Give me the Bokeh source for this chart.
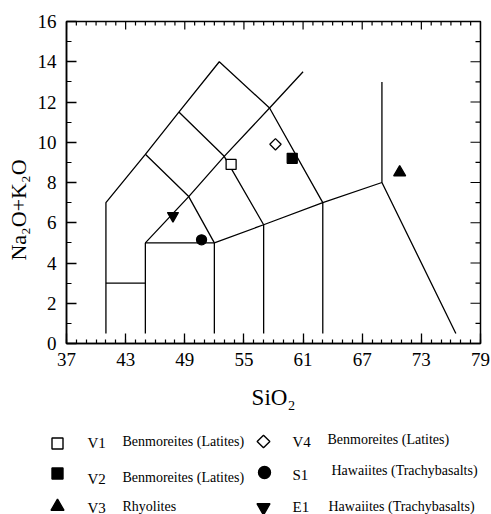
import math
from bokeh.plotting import figure
from bokeh.models import FixedTicker, Range1d, ColumnDataSource
from bokeh.layouts import column
from bokeh.embed import file_html
from bokeh.resources import INLINE

FONT = "Liberation Serif"
NB = "\u00a0"

# ---- data -------------------------------------------------------------
x_ticks = [37, 43, 49, 55, 61, 67, 73, 79]
y_ticks = [0, 2, 4, 6, 8, 10, 12, 14, 16]
x_minor = list(range(37, 80))
y_minor = list(range(0, 17))

# TAS field boundaries (SiO2, Na2O+K2O)
outer_x = [41, 41, 45, 48.4, 52.5, 57.6, 63, 63]
outer_y = [0.5, 7, 9.4, 11.5, 14, 11.7, 7, 0.5]
low_x = [41, 45]
low_y = [3, 3]
basalt_x = [45, 45, 52, 52]
basalt_y = [0.5, 5, 5, 0.5]
diag_x = [45, 49.4, 53, 57.6, 61]
diag_y = [5, 7.3, 9.3, 11.7, 13.5]
mid1_x = [45, 49.4, 52]
mid1_y = [9.4, 7.3, 5]
mid2_x = [48.4, 53, 57]
mid2_y = [11.5, 9.3, 5.9]
base_x = [52, 57, 63, 69, 76.5]
base_y = [5, 5.9, 7, 8, 0.5]
v57_x = [57, 57]
v57_y = [5.9, 0.5]
v69_x = [69, 69]
v69_y = [8, 13]

samples = ["V1", "V2", "V3", "V4", "S1", "E1"]
rock_types = ["Benmoreites (Latites)", "Benmoreites (Latites)", "Rhyolites",
              "Benmoreites (Latites)", "Hawaiites (Trachybasalts)",
              "Hawaiites (Trachybasalts)"]
sio2 = [53.7, 59.9, 70.8, 58.2, 50.7, 47.8]
alkali = [8.9, 9.2, 8.5, 9.9, 5.15, 6.35]

# ---- styles -----------------------------------------------------------
markers = ["square", "square", "triangle", "square", "circle", "inverted_triangle"]
angles = [0, 0, 0, math.pi / 4, 0, 0]
fills = ["white", "black", "black", "white", "black", "black"]
psizes = [10, 10, 12, 8, 10, 11]

# ---- geometry ---------------------------------------------------------
W, H = 491, 514
TOP_H = 420
FL, FR, FT, FB = 66, 480, 21, 343

p = figure(width=W, height=TOP_H, output_backend="svg", toolbar_location=None,
           x_range=Range1d(37, 79), y_range=Range1d(0, 16),
           min_border_left=FL, min_border_right=W - FR,
           min_border_top=FT, min_border_bottom=TOP_H - FB)
p.xgrid.visible = False
p.ygrid.visible = False
p.outline_line_color = "black"
p.outline_line_width = 1.5

p.xaxis.ticker = FixedTicker(ticks=x_ticks, minor_ticks=x_minor)
p.yaxis.ticker = FixedTicker(ticks=y_ticks, minor_ticks=y_minor)
for ax, minor_len in ((p.xaxis, 4), (p.yaxis, 5)):
    ax.major_tick_in = 10
    ax.major_tick_out = 0
    ax.minor_tick_in = minor_len
    ax.minor_tick_out = 0
    ax.axis_line_color = "black"
    ax.axis_line_width = 1.5
    ax.major_tick_line_color = "black"
    ax.minor_tick_line_color = "black"
    ax.major_tick_line_width = 1.3
    ax.minor_tick_line_width = 1.2
    ax.major_label_text_font = FONT
    ax.major_label_text_color = "black"
    ax.major_label_text_font_size = "19px"
    ax.axis_label_text_font = FONT
    ax.axis_label_text_font_style = "normal"
    ax.axis_label_text_color = "black"
p.xaxis.major_label_standoff = 9
p.yaxis.major_label_standoff = 10
p.xaxis.axis_label = "SiO₂"
p.xaxis.axis_label_text_font_size = "23px"
p.xaxis.axis_label_standoff = 16
p.yaxis.axis_label = "Na₂O+K₂O" + NB * 10
p.yaxis.axis_label_text_font_size = "22px"
p.yaxis.axis_label_standoff = 4

# mirrored ticks on the top and right frame edges
px_x = (FR - FL) / (79 - 37)
px_y = (FB - FT) / (16 - 0)
top_len = [(8 if t in x_ticks else 4) / px_y for t in x_minor]
p.segment(x0=x_minor, y0=[16] * len(x_minor), x1=x_minor,
          y1=[16 - l for l in top_len], line_color="black", line_width=1.2)
right_len = [(10 if t in y_ticks else 5) / px_x for t in y_minor]
p.segment(x0=[79] * len(y_minor), y0=y_minor, x1=[79 - l for l in right_len],
          y1=y_minor, line_color="black", line_width=1.2)

for xs, ys in [(outer_x, outer_y), (low_x, low_y), (basalt_x, basalt_y),
               (diag_x, diag_y), (mid1_x, mid1_y), (mid2_x, mid2_y),
               (base_x, base_y), (v57_x, v57_y), (v69_x, v69_y)]:
    p.line(xs, ys, line_color="black", line_width=1.3)

src = ColumnDataSource(dict(x=sio2, y=alkali, marker=markers, angle=angles,
                            fill=fills, size=psizes))
p.scatter(x="x", y="y", marker="marker", angle="angle", fill_color="fill",
          size="size", line_color="black", line_width=1.3, source=src)

# ---- legend panel (page pixel coordinates) -----------------------------
leg = figure(width=W, height=H - TOP_H, output_backend="svg", toolbar_location=None,
             x_range=Range1d(0, W), y_range=Range1d(H, TOP_H),
             min_border=0, x_axis_type=None, y_axis_type=None)
leg.frame_align = False
leg.xgrid.visible = False
leg.ygrid.visible = False
leg.outline_line_color = None

lx = [57, 57, 57, 263, 264, 263]
ly_ = [443, 473, 506, 441, 472, 507]
lsizes = [11, 11, 13, 9, 12, 13]
leg.scatter(x=lx, y=ly_, marker=markers, angle=angles, fill_color=fills,
            size=lsizes, line_color="black", line_width=1.4)

code_x = [87, 87, 87, 292, 292, 292]
code_y = [442, 478, 507, 441, 474, 506]
desc_x = [122, 122, 122, 327, 331, 328]
desc_y = [441, 477, 506, 439, 470, 506]
leg.text(x=code_x, y=code_y, text=samples, text_font=FONT,
         text_font_size="15px", text_baseline="middle", text_color="black")
leg.text(x=desc_x, y=desc_y, text=rock_types, text_font=FONT,
         text_font_size="14px", text_baseline="middle", text_color="black")

layout = column(p, leg, spacing=0)
open("out.html", "w").write(file_html(layout, INLINE))
